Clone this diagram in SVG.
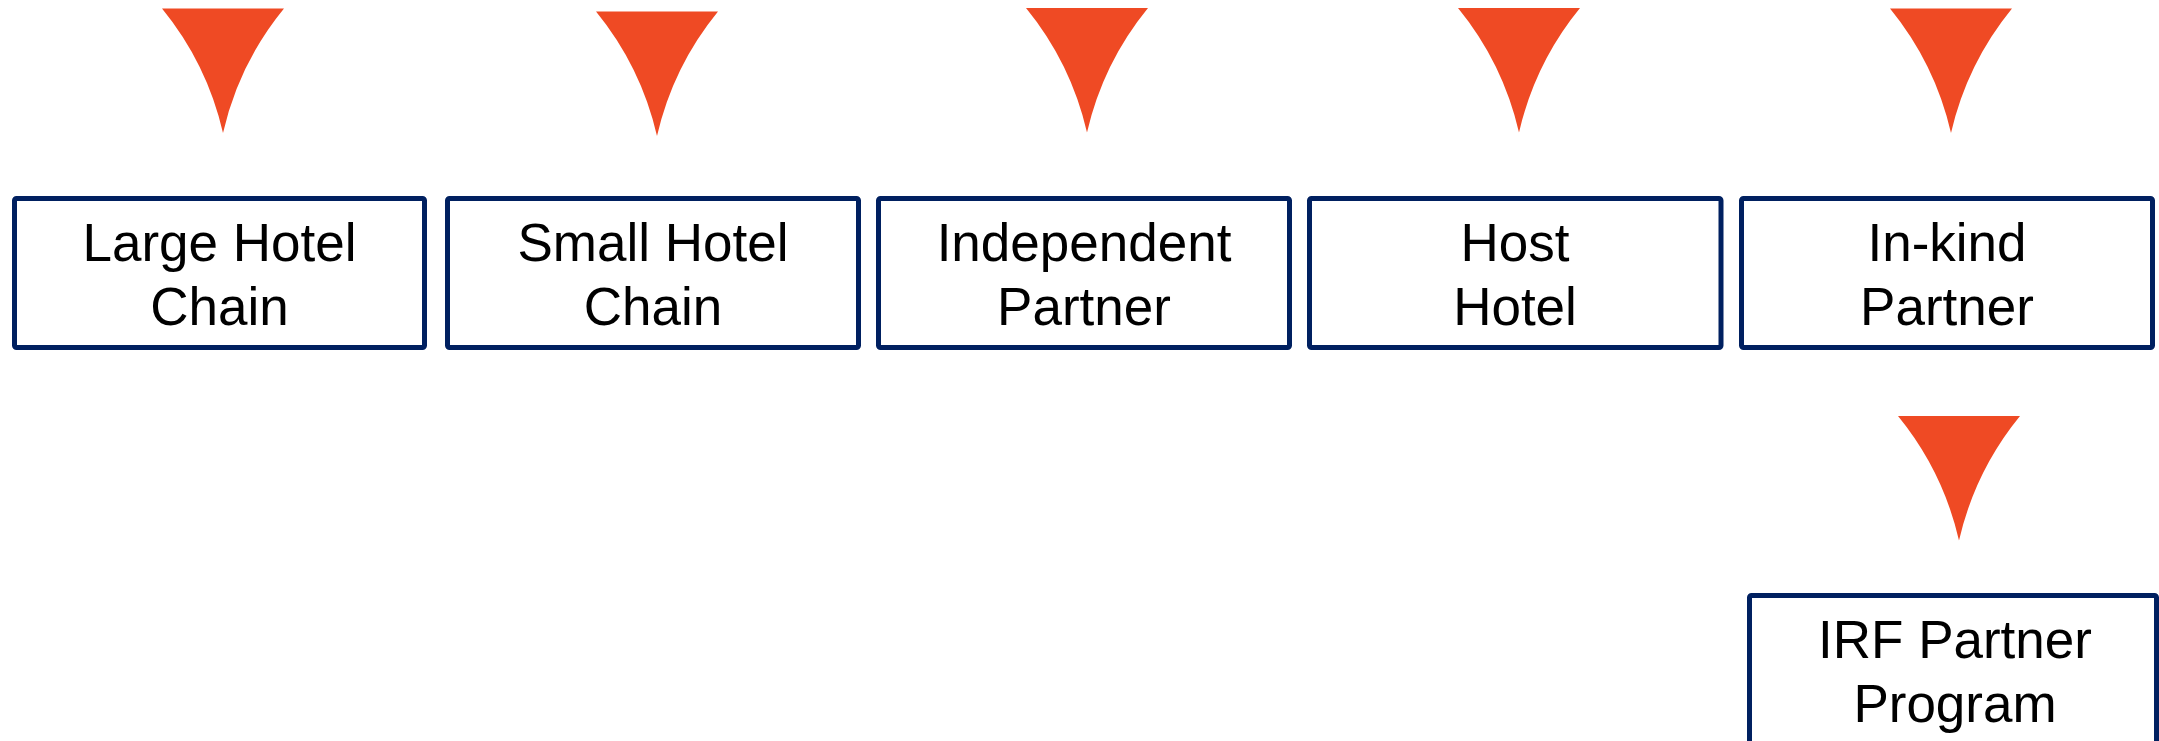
<svg xmlns="http://www.w3.org/2000/svg" width="2159" height="741" viewBox="0 0 2159 741">
<style>
.box{fill:#FFFFFF;stroke:#002060;stroke-width:5;stroke-linejoin:round}
.lbl{font-family:"Liberation Sans",Arial,sans-serif;font-size:53px;fill:#000000;text-anchor:middle}
.arr{fill:#EF4A24}
</style>
<defs>
<path id="tri" d="M-61,0 L61,0 Q16,55 0,124.5 Q-16,55 -61,0 Z"/>
</defs>
<rect width="2159" height="741" fill="#FFFFFF"/>
<g id="connectors">
<use href="#tri" class="arr" x="223" y="8.5"/>
<use href="#tri" class="arr" x="657" y="11.5"/>
<use href="#tri" class="arr" x="1087" y="8"/>
<use href="#tri" class="arr" x="1519" y="8"/>
<use href="#tri" class="arr" x="1951" y="8.5"/>
<use href="#tri" class="arr" x="1959" y="416"/>
</g>
<g id="node-large-hotel-chain">
<rect class="box" x="14.5" y="198.5" width="410" height="149" rx="2"/>
<text class="lbl" x="219.5" y="260.5">Large Hotel</text>
<text class="lbl" x="219.5" y="324.5">Chain</text>
</g>
<g id="node-small-hotel-chain">
<rect class="box" x="447.5" y="198.5" width="411" height="149" rx="2"/>
<text class="lbl" x="653" y="260.5">Small Hotel</text>
<text class="lbl" x="653" y="324.5">Chain</text>
</g>
<g id="node-independent-partner">
<rect class="box" x="878.5" y="198.5" width="411" height="149" rx="2"/>
<text class="lbl" x="1084" y="260.5">Independent</text>
<text class="lbl" x="1084" y="324.5">Partner</text>
</g>
<g id="node-host-hotel">
<rect class="box" x="1309.5" y="198.5" width="411.5" height="149" rx="2"/>
<text class="lbl" x="1515" y="260.5">Host</text>
<text class="lbl" x="1515" y="324.5">Hotel</text>
</g>
<g id="node-in-kind-partner">
<rect class="box" x="1741.5" y="198.5" width="411" height="149" rx="2"/>
<text class="lbl" x="1947" y="260.5">In-kind</text>
<text class="lbl" x="1947" y="324.5">Partner</text>
</g>
<g id="node-irf-partner-program">
<rect class="box" x="1749.5" y="595.5" width="407" height="149" rx="2"/>
<text class="lbl" x="1955" y="657.5">IRF Partner</text>
<text class="lbl" x="1955" y="721.5">Program</text>
</g>
</svg>
